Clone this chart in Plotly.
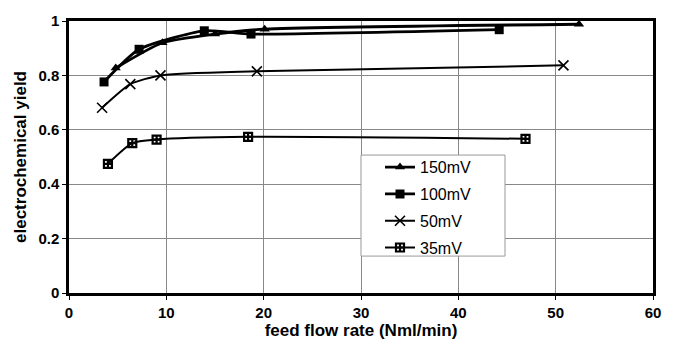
import plotly.graph_objects as go

x_150 = [4.8, 9.6, 15.0, 20.1, 52.4]
y_150 = [0.827, 0.920, 0.952, 0.970, 0.988]
x_100 = [3.6, 7.2, 13.9, 18.7, 44.2]
y_100 = [0.776, 0.896, 0.964, 0.952, 0.968]
x_50 = [3.4, 6.3, 9.4, 19.3, 50.8]
y_50 = [0.681, 0.768, 0.800, 0.815, 0.837]
x_35 = [4.0, 6.5, 9.0, 18.4, 46.9]
y_35 = [0.475, 0.551, 0.564, 0.574, 0.567]

names = ["150mV", "100mV", "50mV", "35mV"]
x_ticks = [0, 10, 20, 30, 40, 50, 60]
y_ticks = [0, 0.2, 0.4, 0.6, 0.8, 1.0]
y_ticktext = ["0", "0.2", "0.4", "0.6", "0.8", "1"]

fig = go.Figure()
styles = [
    (x_150, y_150, "triangle-up", 9, 2.8, dict(color="black")),
    (x_100, y_100, "square", 9, 2.8, dict(color="black")),
    (x_50, y_50, "x-thin-open", 10, 2.0, dict(color="black", width=1.6)),
    (x_35, y_35, "square-cross-open", 8, 2.0, dict(color="black", width=2.2)),
]
for name, (xs, ys, sym, size, lw, mline) in zip(names, styles):
    fig.add_trace(go.Scatter(
        x=xs, y=ys, name=name, mode="lines+markers", legendgroup=name,
        line=dict(color="black", width=lw, shape="spline", smoothing=0.6),
        marker=dict(symbol=sym, size=size, color="black", line=mline),
    ))

font_fam = "Liberation Sans, Arial, sans-serif"

# legend frame (drawn as a box behind the legend entries)
fig.add_shape(type="rect", xref="paper", yref="paper",
              x0=(361 - 69) / 584, x1=(505 - 69) / 584,
              y0=(295 - 257) / 280, y1=(295 - 153) / 280,
              fillcolor="white", line=dict(color="#999999", width=1), layer="above")

fig.update_layout(
    width=675, height=350,
    margin=dict(l=69, r=22, t=15, b=55),
    paper_bgcolor="white", plot_bgcolor="white",
    font=dict(family=font_fam, color="black"),
    showlegend=True,
    legend=dict(
        x=(380 - 69) / 584, y=(295 - 148) / 280, xanchor="left", yanchor="top",
        bgcolor="rgba(0,0,0,0)", borderwidth=0,
        font=dict(size=16, family=font_fam, color="black"),
        itemwidth=30, tracegroupgap=3,
    ),
)
fig.update_xaxes(
    range=[0, 60], tickvals=x_ticks, ticktext=[str(v) for v in x_ticks],
    showgrid=True, gridcolor="#888888", gridwidth=1,
    showline=True, linecolor="black", linewidth=2.5, mirror=True,
    ticks="outside", ticklen=4, tickcolor="black",
    tickfont=dict(size=15, family=font_fam, color="black", weight="bold"),
    title=dict(text="<b>feed flow rate (Nml/min)</b>", font=dict(size=17), standoff=5),
    zeroline=False,
)
fig.update_yaxes(
    range=[0, 1], tickvals=y_ticks, ticktext=y_ticktext,
    showgrid=True, gridcolor="#888888", gridwidth=1,
    showline=True, linecolor="black", linewidth=2.5, mirror=True,
    ticks="outside", ticklen=4, tickcolor="black",
    tickfont=dict(size=15, family=font_fam, color="black", weight="bold"),
    title=dict(text="<b>electrochemical yield</b>", font=dict(size=17), standoff=8),
    zeroline=False,
)

fig.write_html("out.html")
